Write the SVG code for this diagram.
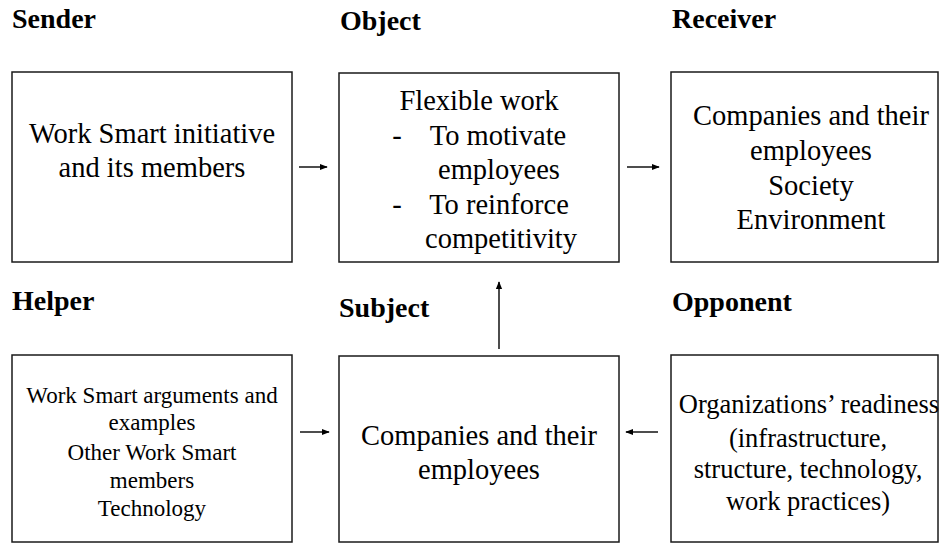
<svg xmlns="http://www.w3.org/2000/svg" width="939" height="545" viewBox="0 0 939 545">
  <defs>
    <style>
      .box { fill: #ffffff; stroke: #1a1a1a; stroke-width: 1.5; }
      .head { font-family: "Liberation Serif", "Times New Roman", serif; font-weight: bold; font-size: 28px; fill: #000; }
      .txt { font-family: "Liberation Serif", "Times New Roman", serif; font-size: 28.5px; fill: #000; text-anchor: middle; }
      .sm { font-family: "Liberation Serif", "Times New Roman", serif; font-size: 23px; fill: #000; text-anchor: middle; }
      .mid { font-family: "Liberation Serif", "Times New Roman", serif; font-size: 26.5px; fill: #000; text-anchor: middle; }
      .link { stroke: #000; stroke-width: 1.4; fill: none; marker-end: url(#tip); }
    </style>
    <marker id="tip" viewBox="0 0 10 10" refX="9" refY="5" markerWidth="8" markerHeight="8" markerUnits="userSpaceOnUse" orient="auto">
      <path d="M0,1 L10,5 L0,9 z" fill="#000"/>
    </marker>
  </defs>
  <rect width="939" height="545" fill="#ffffff"/>

  <!-- section headings -->
  <g id="headings">
    <text class="head" x="12" y="28">Sender</text>
    <text class="head" x="340" y="30">Object</text>
    <text class="head" x="672" y="28">Receiver</text>
    <text class="head" x="12" y="310">Helper</text>
    <text class="head" x="339" y="317">Subject</text>
    <text class="head" x="672" y="311">Opponent</text>
  </g>

  <g id="sender">
    <rect class="box" x="12" y="72" width="280" height="190"/>
    <text class="txt" x="152" y="143">Work Smart initiative</text>
    <text class="txt" x="152" y="177">and its members</text>
  </g>

  <g id="object">
    <rect class="box" x="339" y="73" width="280" height="189"/>
    <text class="txt" x="479" y="110">Flexible work</text>
    <text class="txt" x="397" y="145">-</text>
    <text class="txt" x="498" y="145">To motivate</text>
    <text class="txt" x="499" y="179">employees</text>
    <text class="txt" x="397" y="214">-</text>
    <text class="txt" x="499" y="214">To reinforce</text>
    <text class="txt" x="501" y="248">competitivity</text>
  </g>

  <g id="receiver">
    <rect class="box" x="671" y="72" width="267" height="190"/>
    <text class="txt" x="811" y="125">Companies and their</text>
    <text class="txt" x="811" y="160">employees</text>
    <text class="txt" x="811" y="195">Society</text>
    <text class="txt" x="811" y="229">Environment</text>
  </g>

  <g id="helper">
    <rect class="box" x="12" y="355" width="280" height="187"/>
    <text class="sm" x="152" y="403">Work Smart arguments and</text>
    <text class="sm" x="152" y="430">examples</text>
    <text class="sm" x="152" y="460">Other Work Smart</text>
    <text class="sm" x="152" y="488">members</text>
    <text class="sm" x="152" y="516">Technology</text>
  </g>

  <g id="subject">
    <rect class="box" x="339" y="356" width="280" height="186"/>
    <text class="txt" x="479" y="445">Companies and their</text>
    <text class="txt" x="479" y="479">employees</text>
  </g>

  <g id="opponent">
    <rect class="box" x="671" y="355" width="267" height="187"/>
    <text class="mid" x="809" y="413">Organizations’ readiness</text>
    <text class="mid" x="808" y="447">(infrastructure,</text>
    <text class="mid" x="808" y="478">structure, technology,</text>
    <text class="mid" x="808" y="510">work practices)</text>
  </g>

  <!-- connectors -->
  <g id="connectors">
    <line class="link" x1="299" y1="167" x2="327" y2="167"/>
    <line class="link" x1="627" y1="167" x2="659" y2="167"/>
    <line class="link" x1="499" y1="349" x2="499" y2="282"/>
    <line class="link" x1="300" y1="432" x2="329" y2="432"/>
    <line class="link" x1="658" y1="432" x2="626" y2="432"/>
  </g>
</svg>
